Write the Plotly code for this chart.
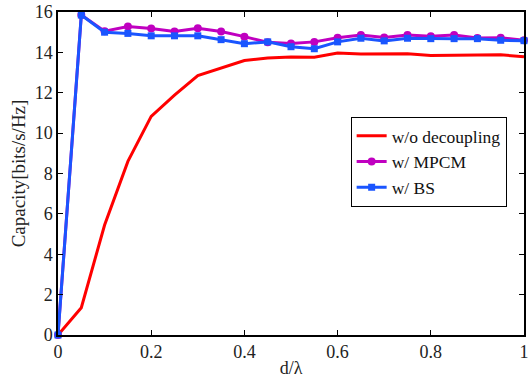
import plotly.graph_objects as go

d = [0, 0.05, 0.1, 0.15, 0.2, 0.25, 0.3, 0.35, 0.4, 0.45, 0.5,
     0.55, 0.6, 0.65, 0.7, 0.75, 0.8, 0.85, 0.9, 0.95, 1.0]
wo_decoupling = [0, 1.35, 5.45, 8.6, 10.83, 11.88, 12.85, 13.23, 13.6, 13.72, 13.77,
                 13.76, 13.97, 13.92, 13.91, 13.93, 13.85, 13.86, 13.88, 13.88, 13.78]
w_mpcm = [0, 15.85, 15.05, 15.28, 15.18, 15.03, 15.2, 15.03, 14.78, 14.5, 14.44,
          14.52, 14.72, 14.86, 14.74, 14.86, 14.8, 14.86, 14.71, 14.72, 14.6]
w_bs = [0, 15.85, 15.0, 14.94, 14.82, 14.82, 14.82, 14.63, 14.43, 14.52, 14.28,
        14.18, 14.52, 14.7, 14.57, 14.7, 14.68, 14.68, 14.68, 14.6, 14.58]

x_ticks = [0, 0.2, 0.4, 0.6, 0.8, 1]
x_ticklabels = ["0", "0.2", "0.4", "0.6", "0.8", "1"]
y_ticks = [0, 2, 4, 6, 8, 10, 12, 14, 16]

font = "Liberation Serif"

fig = go.Figure()
fig.add_trace(go.Scatter(x=d, y=wo_decoupling, mode="lines", name="w/o decoupling",
                         line=dict(color="#ff0000", width=3), cliponaxis=False))
fig.add_trace(go.Scatter(x=d, y=w_mpcm, mode="lines+markers", name="w/ MPCM",
                         line=dict(color="#c000c0", width=3), cliponaxis=False,
                         marker=dict(symbol="circle", size=8, color="#c000c0")))
fig.add_trace(go.Scatter(x=d, y=w_bs, mode="lines+markers", name="w/ BS",
                         line=dict(color="#1a55ff", width=3), cliponaxis=False,
                         marker=dict(symbol="square", size=7, color="#1a55ff")))

axis_common = dict(showgrid=False, zeroline=False, showline=True, linecolor="black",
                   linewidth=1.5, mirror="ticks", ticks="inside", ticklen=5,
                   tickcolor="black", automargin=False,
                   tickfont=dict(family=font, size=18, color="#222"))

fig.update_xaxes(range=[0, 1], tickvals=x_ticks, ticktext=x_ticklabels,
                 title=dict(text="d/λ", font=dict(family=font, size=18, color="#222"), standoff=0),
                 **axis_common)
fig.update_yaxes(range=[0, 16], tickvals=y_ticks,
                 title=dict(text="Capacity[bits/s/Hz]", font=dict(family=font, size=19, color="#222"), standoff=4),
                 **axis_common)

fig.update_layout(
    width=529, height=379,
    margin=dict(l=58, r=5, t=12, b=44),
    plot_bgcolor="white", paper_bgcolor="white",
    showlegend=True,
    font=dict(family=font),
    legend=dict(x=0.628, y=0.675, xanchor="left", yanchor="top",
                bgcolor="white", bordercolor="black", borderwidth=1,
                font=dict(family=font, size=17.5, color="#111"),
                tracegroupgap=0, itemwidth=30),
)

fig.write_html("out.html", config={"displayModeBar": False},
               post_script="document.body.style.margin='0';document.body.style.overflow='hidden';")
